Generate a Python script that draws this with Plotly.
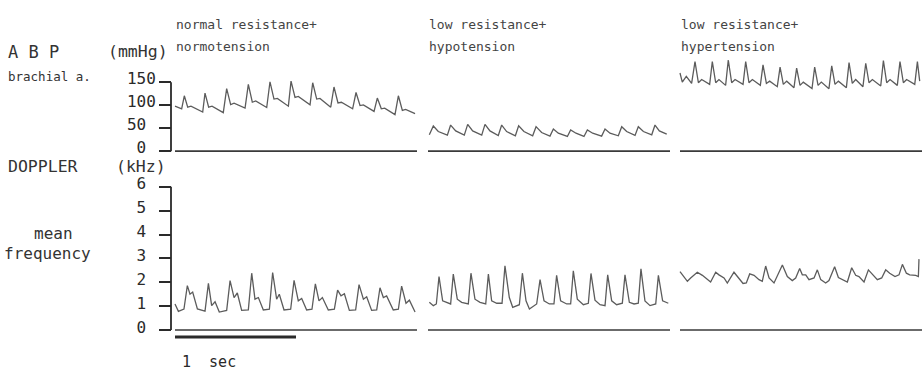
import plotly.graph_objects as go

# ---------------- data ----------------
PANEL_TITLES = [
    ("normal resistance+", "normotension"),
    ("low resistance+", "hypotension"),
    ("low resistance+", "hypertension"),
]

ABP_TICKS = [0, 50, 100, 150]
ABP_TICK_TEXT = ["0\u00a0", "50\u00a0", "100", "150"]
DOP_TICKS = [0, 1, 2, 3, 4, 5, 6]
DOP_TICK_TEXT = [f"{v}\u00a0" for v in DOP_TICKS]

# arterial blood pressure, brachial artery (s, mmHg)
t_abp_normo = [0.000, 0.055, 0.077, 0.105, 0.132, 0.229, 0.248, 0.278, 0.306, 0.399,
               0.427, 0.460, 0.488, 0.579, 0.606, 0.639, 0.667, 0.758, 0.785, 0.818,
               0.846, 0.937, 0.959, 0.992, 1.019, 1.116, 1.138, 1.171, 1.198, 1.287,
               1.314, 1.347, 1.375, 1.468, 1.496, 1.529, 1.557, 1.645, 1.672, 1.705,
               1.733, 1.818, 1.846, 1.879, 1.906, 1.984]
abp_normo = [97.8, 92.1, 120.4, 95.6, 97.8, 85.0, 126.1, 95.6, 97.8, 83.6,
             136.0, 101.3, 104.1, 93.5, 145.2, 106.3, 109.1, 94.9, 150.8, 113.3,
             114.7, 97.8, 152.3, 116.9, 119.0, 100.6, 148.7, 113.3, 114.7, 95.6,
             139.5, 104.8, 106.3, 92.1, 127.5, 99.2, 100.6, 86.4, 115.4, 92.1,
             93.5, 79.4, 120.4, 88.6, 90.7, 81.5]

t_abp_hypo = [0.011, 0.044, 0.085, 0.160, 0.187, 0.229, 0.300, 0.328, 0.369, 0.444,
              0.471, 0.512, 0.581, 0.609, 0.650, 0.722, 0.749, 0.793, 0.865, 0.893,
              0.939, 1.008, 1.036, 1.077, 1.152, 1.179, 1.223, 1.289, 1.317, 1.361,
              1.435, 1.463, 1.504, 1.573, 1.601, 1.642, 1.711, 1.738, 1.780, 1.849,
              1.876, 1.912, 1.973]
abp_hypo = [35.5, 54.6, 42.6, 34.8, 56.7, 44.0, 34.8, 58.1, 44.0, 34.8,
            58.1, 44.0, 34.1, 56.7, 42.6, 33.4, 55.3, 42.6, 33.4, 53.2,
            40.4, 32.7, 48.2, 39.0, 31.9, 46.1, 39.0, 31.9, 46.1, 39.0,
            32.7, 48.2, 39.0, 33.4, 53.2, 42.6, 34.1, 53.2, 42.6, 35.5,
            56.7, 44.0, 36.9]

t_abp_hyper = [0.000, 0.019, 0.052, 0.096, 0.124, 0.152, 0.179, 0.245, 0.267, 0.295,
               0.322, 0.377, 0.399, 0.427, 0.455, 0.521, 0.543, 0.570, 0.598, 0.664,
               0.686, 0.714, 0.741, 0.804, 0.827, 0.854, 0.882, 0.942, 0.964, 0.992,
               1.019, 1.091, 1.113, 1.141, 1.168, 1.231, 1.254, 1.281, 1.309, 1.375,
               1.397, 1.424, 1.452, 1.512, 1.535, 1.562, 1.590, 1.659, 1.681, 1.708,
               1.736, 1.796, 1.818, 1.846, 1.873, 1.940, 1.962, 1.981]
abp_hyper = [169.9, 150.1, 162.8, 147.2, 194.7, 148.7, 155.7, 145.1, 194.7, 148.7,
             155.7, 143.0, 198.2, 148.7, 155.7, 145.1, 194.7, 148.7, 155.7, 143.0,
             187.6, 147.2, 152.2, 140.2, 182.6, 145.1, 152.2, 138.0, 180.5, 143.0,
             150.1, 135.9, 182.6, 143.0, 150.1, 135.9, 185.5, 145.1, 152.2, 138.0,
             192.5, 147.2, 155.7, 140.2, 191.1, 148.7, 155.7, 141.6, 196.8, 148.7,
             155.7, 143.0, 194.7, 148.7, 155.7, 145.1, 194.7, 152.2]

# Doppler mean frequency (s, kHz)
t_dop_normo = [0.000, 0.028, 0.074, 0.102, 0.124, 0.146, 0.185, 0.248, 0.276, 0.303,
               0.331, 0.366, 0.427, 0.455, 0.488, 0.515, 0.551, 0.606, 0.634, 0.661,
               0.689, 0.730, 0.780, 0.807, 0.840, 0.862, 0.901, 0.956, 0.984, 1.019,
               1.047, 1.088, 1.132, 1.160, 1.190, 1.218, 1.267, 1.317, 1.344, 1.372,
               1.400, 1.441, 1.493, 1.521, 1.557, 1.584, 1.625, 1.667, 1.694, 1.722,
               1.749, 1.804, 1.846, 1.873, 1.909, 1.937, 1.984]
dop_normo = [1.09, 0.78, 0.88, 1.86, 1.50, 1.59, 0.88, 0.79, 1.95, 1.02,
             1.18, 0.75, 0.82, 2.07, 1.36, 1.55, 0.82, 0.84, 2.38, 1.29,
             1.36, 0.84, 0.87, 2.41, 1.29, 1.50, 0.84, 0.87, 2.08, 1.22,
             1.32, 0.84, 0.87, 1.93, 1.22, 1.36, 0.84, 0.87, 1.67, 1.43,
             1.52, 0.82, 0.84, 1.90, 1.29, 1.39, 0.82, 0.84, 1.77, 1.36,
             1.43, 0.84, 0.87, 1.84, 1.12, 1.25, 0.75]

t_dop_hypo = [0.011, 0.044, 0.069, 0.091, 0.121, 0.154, 0.187, 0.209, 0.242, 0.278,
              0.333, 0.355, 0.388, 0.430, 0.477, 0.499, 0.526, 0.568, 0.612, 0.636,
              0.672, 0.700, 0.755, 0.780, 0.810, 0.838, 0.898, 0.926, 0.959, 1.003,
              1.041, 1.063, 1.096, 1.146, 1.179, 1.201, 1.234, 1.284, 1.325, 1.347,
              1.380, 1.422, 1.463, 1.485, 1.518, 1.559, 1.606, 1.628, 1.664, 1.703,
              1.738, 1.760, 1.793, 1.835, 1.882, 1.904, 1.939, 1.986]
dop_hypo = [1.16, 1.02, 1.09, 2.24, 1.22, 1.16, 1.09, 2.34, 1.29, 1.16,
            1.09, 2.38, 1.29, 1.16, 1.09, 2.34, 1.22, 1.12, 1.12, 2.69,
            1.36, 0.95, 1.06, 2.38, 1.22, 0.88, 1.09, 2.11, 1.22, 1.09,
            1.09, 2.29, 1.22, 1.09, 1.09, 2.48, 1.29, 1.06, 1.12, 2.37,
            1.25, 1.06, 1.02, 2.31, 1.22, 1.06, 1.12, 2.31, 1.16, 1.09,
            1.12, 2.56, 1.22, 1.02, 1.09, 2.29, 1.22, 1.12]

t_dop_hyper = [0.000, 0.033, 0.061, 0.088, 0.143, 0.185, 0.226, 0.253, 0.295, 0.322,
               0.364, 0.391, 0.446, 0.488, 0.521, 0.548, 0.576, 0.612, 0.653, 0.680,
               0.708, 0.736, 0.777, 0.846, 0.887, 0.928, 0.956, 0.989, 1.011, 1.039,
               1.066, 1.108, 1.135, 1.163, 1.204, 1.231, 1.278, 1.309, 1.342, 1.383,
               1.419, 1.452, 1.479, 1.521, 1.557, 1.590, 1.631, 1.667, 1.700, 1.733,
               1.777, 1.810, 1.838, 1.871, 1.898, 1.948, 1.970, 1.975]
dop_hyper = [2.45, 2.24, 2.04, 2.18, 2.42, 2.29, 2.11, 2.01, 2.42, 2.31,
             2.18, 1.97, 2.42, 2.15, 1.95, 1.97, 2.35, 2.29, 2.11, 2.04,
             2.68, 2.18, 1.97, 2.72, 2.24, 2.07, 2.18, 2.58, 2.31, 2.31,
             2.11, 2.18, 2.52, 2.11, 1.97, 2.07, 2.65, 2.20, 2.11, 2.01,
             2.61, 2.29, 2.24, 2.01, 2.52, 2.34, 2.11, 2.18, 2.52, 2.38,
             2.24, 2.31, 2.75, 2.38, 2.31, 2.29, 2.24, 2.97]

SWEEP_SEC = 2.0        # length of each recording strip
SCALE_BAR_SEC = 1.0    # time calibration bar

# ---------------- geometry (pixels) ----------------
W, H = 924, 370
AXIS_X = 171                      # vertical axis position
STRIP_X0 = [175, 428, 680]        # left edge (t = 0) of each strip
PX_PER_SEC = 121
ABP_ZERO, ABP_PX = 146.7, 0.4713  # y of 0 mmHg, px per mmHg
DOP_ZERO, DOP_PX = 330.0, 24.45   # y of 0 kHz, px per kHz
ABP_RANGE = [-10, 210]
DOP_RANGE = [-0.6, 6.2]
X_RANGE = [-0.03, 2.01]


def px_x(x):
    return x / W


def px_y(y):
    return 1 - y / H


abp_domain = [px_y(ABP_ZERO - ABP_RANGE[0] * ABP_PX), px_y(ABP_ZERO - ABP_RANGE[1] * ABP_PX)]
dop_domain = [px_y(DOP_ZERO - DOP_RANGE[0] * DOP_PX), px_y(DOP_ZERO - DOP_RANGE[1] * DOP_PX)]

INK = "#2a2a2a"
TRACE = "#5c5c5c"
MONO = "DejaVu Sans Mono"

fig = go.Figure()

abp_series = [(t_abp_normo, abp_normo), (t_abp_hypo, abp_hypo), (t_abp_hyper, abp_hyper)]
dop_series = [(t_dop_normo, dop_normo), (t_dop_hypo, dop_hypo), (t_dop_hyper, dop_hyper)]

xnames = ["x", "x2", "x3"]
for k in range(3):
    fig.add_trace(go.Scatter(x=abp_series[k][0], y=abp_series[k][1], mode="lines",
                             xaxis=xnames[k], yaxis="y",
                             line=dict(color=TRACE, width=1.3), hoverinfo="skip",
                             showlegend=False))
    fig.add_trace(go.Scatter(x=dop_series[k][0], y=dop_series[k][1], mode="lines",
                             xaxis=xnames[k], yaxis="y2",
                             line=dict(color=TRACE, width=1.3), hoverinfo="skip",
                             showlegend=False))

layout = dict(
    width=W, height=H,
    margin=dict(l=0, r=0, t=0, b=0),
    paper_bgcolor="white", plot_bgcolor="rgba(0,0,0,0)",
    showlegend=False,
)

for k in range(3):
    x0 = STRIP_X0[k] + X_RANGE[0] * PX_PER_SEC
    x1 = STRIP_X0[k] + X_RANGE[1] * PX_PER_SEC
    key = "xaxis" if k == 0 else f"xaxis{k + 1}"
    layout[key] = dict(domain=[px_x(x0), px_x(x1)], range=X_RANGE, visible=False,
                       anchor="y", fixedrange=True)

tickfont = dict(family=MONO, size=16, color=INK)
layout["yaxis"] = dict(domain=abp_domain, range=ABP_RANGE, anchor="free", position=px_x(AXIS_X),
                       tickvals=ABP_TICKS, ticktext=ABP_TICK_TEXT, ticks="outside", ticklen=12,
                       tickwidth=1.6, tickcolor=INK, tickfont=tickfont, ticklabelshift=-4,
                       ticklabeloverflow="allow",
                       showline=False, showgrid=False, zeroline=False, fixedrange=True)
layout["yaxis2"] = dict(domain=dop_domain, range=DOP_RANGE, anchor="free", position=px_x(AXIS_X),
                        tickvals=DOP_TICKS, ticktext=DOP_TICK_TEXT, ticks="outside", ticklen=12,
                        tickwidth=1.6, tickcolor=INK, tickfont=tickfont, ticklabelshift=-3,
                        ticklabeloverflow="allow",
                        showline=False, showgrid=False, zeroline=False, fixedrange=True)

shapes = [
    dict(type="line", xref="paper", yref="y", x0=px_x(AXIS_X), x1=px_x(AXIS_X),
         y0=ABP_TICKS[0], y1=ABP_TICKS[-1], line=dict(color=INK, width=1.8)),
    dict(type="line", xref="paper", yref="y2", x0=px_x(AXIS_X), x1=px_x(AXIS_X),
         y0=DOP_TICKS[0], y1=DOP_TICKS[-1], line=dict(color=INK, width=1.8)),
]
for k in range(3):
    for yref in ("y", "y2"):
        shapes.append(dict(type="line", xref=xnames[k], yref=yref, x0=0, x1=SWEEP_SEC,
                           y0=0, y1=0, line=dict(color="#3a3a3a", width=1.6)))
# 1 s calibration bar under the first Doppler strip
shapes.append(dict(type="line", xref="x", yref="y2", x0=0, x1=SCALE_BAR_SEC,
                   y0=-0.29, y1=-0.29, line=dict(color=INK, width=3)))
layout["shapes"] = shapes

ann = []


def label(text, x, y, size, color="#333333"):
    ann.append(dict(text=text, x=px_x(x), y=px_y(y), xref="paper", yref="paper",
                    xanchor="left", yanchor="middle", showarrow=False,
                    font=dict(family=MONO, size=size, color=color)))


for k, (l1, l2) in enumerate(PANEL_TITLES):
    label(l1, STRIP_X0[k] - 1, 17, 13, "#444444")
    label(l2, STRIP_X0[k] - 1, 39, 13, "#444444")

label("A B P", 6, 45, 17)
label("(mmHg)", 106, 45, 16.5)
label("brachial a.", 6, 70, 12.5)
label("DOPPLER", 6, 162, 16.5)
label("(kHz)", 114, 162, 16.5)
label("mean", 32, 231, 16)
label("frequency", 2, 252, 16)
label("1\u00a0\u00a0sec", 180, 363, 15, INK)
layout["annotations"] = ann

fig.update_layout(**layout)
fig.write_html("out.html")
